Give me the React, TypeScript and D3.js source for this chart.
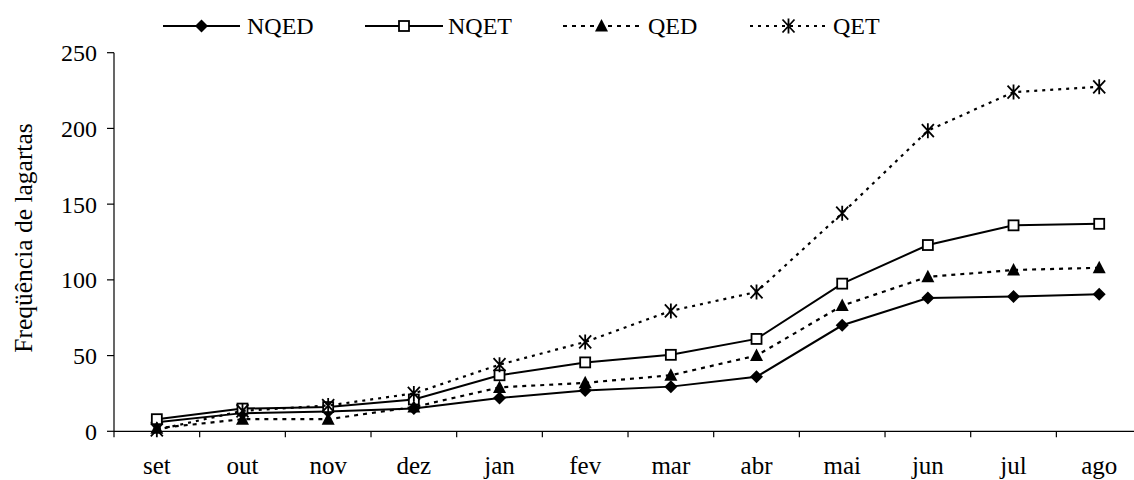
import React from "react";
import * as d3 from "d3";

const months = ["set", "out", "nov", "dez", "jan", "fev", "mar", "abr", "mai", "jun", "jul", "ago"];
const nqed = [6, 12, 13, 15, 22, 27, 29.5, 36, 70, 88, 89, 90.5];
const nqet = [8, 15, 16, 21, 37, 45.5, 50.5, 61, 97.5, 123, 136, 137];
const qed = [2, 8, 8, 16, 29, 32, 37, 50, 83, 102, 106.5, 108];
const qet = [1, 13.5, 17, 25, 44, 59, 79.5, 92, 144, 198.5, 224, 227.5];
const yTicks = [0, 50, 100, 150, 200, 250];
const seriesNames = ["NQED", "NQET", "QED", "QET"];

const W = 1134;
const H = 480;
const FONT = "Liberation Serif, Times New Roman, DejaVu Serif, serif";

type MarkerKind = "diamond" | "square" | "triangle" | "asterisk";

function Marker({ kind, x, y }: { kind: MarkerKind; x: number; y: number }) {
  const t = `translate(${x},${y})`;
  if (kind === "diamond") {
    return <path transform={t} d="M0,-6.5L6.5,0L0,6.5L-6.5,0Z" fill="#000" />;
  }
  if (kind === "square") {
    return <rect transform={t} x={-5} y={-5} width={10} height={10} fill="#fff" stroke="#000" strokeWidth={1.8} />;
  }
  if (kind === "triangle") {
    return <path transform={t} d="M0,-7L6.5,5.5L-6.5,5.5Z" fill="#000" />;
  }
  return (
    <path transform={t} d="M-6,-6.5L6,6.5M-6,6.5L6,-6.5M0,-7.5L0,7.5" stroke="#000" strokeWidth={1.8} fill="none" />
  );
}

export default function App() {
  const x = d3.scaleBand<string>().domain(months).range([114, 114 + 12 * 85.67]);
  const y = d3.scaleLinear().domain([0, 250]).range([431.3, 52.7]);
  const cx = (m: string) => (x(m) as number) + x.bandwidth() / 2;

  const series: { name: string; values: number[]; kind: MarkerKind; dash: string | undefined }[] = [
    { name: seriesNames[0], values: nqed, kind: "diamond", dash: undefined },
    { name: seriesNames[1], values: nqet, kind: "square", dash: undefined },
    { name: seriesNames[2], values: qed, kind: "triangle", dash: "4,5" },
    { name: seriesNames[3], values: qet, kind: "asterisk", dash: "3,5" },
  ];

  const line = d3
    .line<number>()
    .x((_, i) => cx(months[i]))
    .y((v) => y(v));

  const legendPos = [
    { x0: 163, x1: 240, tx: 247 },
    { x0: 365, x1: 443, tx: 448 },
    { x0: 563, x1: 640, tx: 648 },
    { x0: 750, x1: 827, tx: 833 },
  ];

  const boundaries = d3.range(months.length + 1).map((i) => 114 + i * x.step());

  return (
    <svg
      width={W}
      height={H}
      style={{ position: "absolute", left: 0, top: 0, background: "#fff", fontFamily: FONT }}
    >
      <rect x={0} y={0} width={W} height={H} fill="#fff" />
      <line x1={114} x2={114} y1={y(250)} y2={y(0)} stroke="#000" strokeWidth={1.2} />
      {yTicks.map((t) => (
        <g key={t}>
          <line x1={107} x2={114} y1={y(t)} y2={y(t)} stroke="#000" strokeWidth={1.2} />
          <text x={97} y={y(t)} dy="0.35em" textAnchor="end" fontSize={24} style={{ fontFamily: FONT }}>
            {t}
          </text>
        </g>
      ))}
      <line x1={114} x2={W} y1={y(0)} y2={y(0)} stroke="#000" strokeWidth={1.2} />
      {boundaries.map((b, i) => (
        <line key={i} x1={b} x2={b} y1={y(0)} y2={y(0) + 6} stroke="#000" strokeWidth={1.2} />
      ))}
      {months.map((m) => (
        <text key={m} x={cx(m)} y={474} textAnchor="middle" fontSize={25} style={{ fontFamily: FONT }}>
          {m}
        </text>
      ))}
      <text
        transform={`translate(32,238) rotate(-90)`}
        textAnchor="middle"
        fontSize={25.5}
        style={{ fontFamily: FONT }}
      >
        Freqüência de lagartas
      </text>
      {series.map((s) => (
        <g key={s.name}>
          <path
            d={line(s.values) || ""}
            fill="none"
            stroke="#000"
            strokeWidth={s.dash ? 2.2 : 2}
            strokeDasharray={s.dash}
          />
          {s.values.map((v, i) => (
            <Marker key={i} kind={s.kind} x={cx(months[i])} y={y(v)} />
          ))}
        </g>
      ))}
      {series.map((s, i) => {
        const p = legendPos[i];
        const ly = 26;
        return (
          <g key={s.name}>
            <line
              x1={p.x0}
              x2={p.x1}
              y1={ly}
              y2={ly}
              stroke="#000"
              strokeWidth={s.dash ? 2.2 : 2}
              strokeDasharray={s.dash}
            />
            <Marker kind={s.kind} x={(p.x0 + p.x1) / 2} y={ly} />
            <text x={p.tx} y={34} fontSize={24} style={{ fontFamily: FONT }}>
              {s.name}
            </text>
          </g>
        );
      })}
    </svg>
  );
}
